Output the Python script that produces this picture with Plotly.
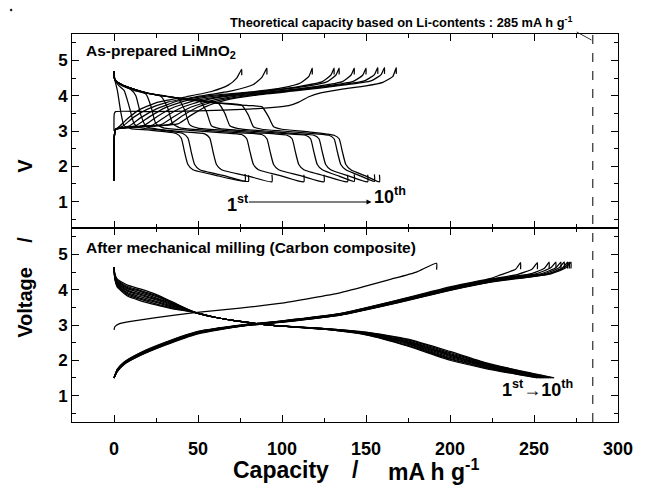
import plotly.graph_objects as go

# ---------------- data ----------------
# Top panel: as-prepared LiMnO2, cycles 1..10
top_chg_cap = [
    [0, 0.2, 1, 20, 50, 80, 95, 104, 110, 116, 123, 135, 150, 160, 166, 168, 168],
    [0, 0.3, 1, 3, 8, 15, 25, 43, 58, 68, 73, 76, 76],
    [0, 0.3, 1, 5, 12, 20, 32, 50, 70, 83, 88, 91, 91],
    [0, 0.3, 1, 9, 16, 25, 38, 55, 80, 100, 111, 116, 118, 118],
    [0, 0.3, 1, 13, 21, 30, 43, 60, 85, 110, 124, 129, 131, 131],
    [0, 0.3, 1, 18, 26, 35, 48, 65, 90, 115, 127, 132, 134, 134],
    [0, 0.3, 1, 23, 31, 40, 53, 70, 95, 120, 136, 141, 143, 143],
    [0, 0.3, 1, 28, 36, 45, 58, 75, 100, 125, 142, 148, 150, 150],
    [0, 0.3, 1, 33, 41, 50, 62, 80, 105, 130, 149, 155, 157, 157],
    [0, 0.3, 1, 38, 46, 55, 66, 85, 110, 135, 153, 159, 161, 161],
]
top_chg_v = [
    [3.0, 3.5, 3.55, 3.55, 3.57, 3.62, 3.67, 3.72, 3.82, 3.97, 4.08, 4.18, 4.28, 4.38, 4.55, 4.8, 4.62],
    [1.6, 2.9, 3.05, 3.12, 3.35, 3.6, 3.8, 3.97, 4.12, 4.3, 4.5, 4.75, 4.58],
    [1.6, 2.9, 3.05, 3.13, 3.4, 3.62, 3.82, 3.98, 4.14, 4.32, 4.52, 4.78, 4.6],
    [1.6, 2.9, 3.05, 3.14, 3.38, 3.62, 3.85, 3.99, 4.1, 4.22, 4.36, 4.55, 4.78, 4.6],
    [1.6, 2.9, 3.05, 3.15, 3.4, 3.65, 3.86, 3.99, 4.11, 4.26, 4.4, 4.58, 4.78, 4.6],
    [1.6, 2.9, 3.05, 3.16, 3.42, 3.66, 3.86, 3.99, 4.12, 4.27, 4.4, 4.58, 4.78, 4.6],
    [1.6, 2.9, 3.05, 3.17, 3.42, 3.66, 3.86, 4.0, 4.12, 4.26, 4.4, 4.58, 4.78, 4.6],
    [1.6, 2.9, 3.05, 3.18, 3.42, 3.66, 3.86, 4.0, 4.13, 4.27, 4.4, 4.58, 4.78, 4.6],
    [1.6, 2.9, 3.05, 3.19, 3.44, 3.68, 3.86, 4.01, 4.14, 4.28, 4.42, 4.6, 4.8, 4.62],
    [1.6, 2.9, 3.05, 3.2, 3.45, 3.7, 3.87, 4.02, 4.15, 4.29, 4.42, 4.6, 4.8, 4.62],
]
top_dis_cap = [
    [0, 0.5, 2, 4, 6, 10, 20, 30, 37, 40, 42, 44, 47, 60, 78, 78],
    [0, 0.5, 3, 6, 9, 12, 15, 25, 35, 41, 44, 46, 48, 51, 65, 80, 80],
    [0, 0.5, 5, 10, 13, 16, 19, 25, 40, 54, 57, 59, 61, 64, 80, 94, 94],
    [0, 0.5, 5, 12, 19, 22, 25, 30, 45, 65, 76, 79, 81, 83, 86, 100, 113, 113],
    [0, 0.5, 5, 15, 28, 32, 35, 40, 55, 75, 88, 91, 93, 95, 98, 112, 125, 125],
    [0, 0.5, 5, 20, 38, 42, 45, 50, 65, 85, 103, 106, 108, 110, 113, 126, 139, 139],
    [0, 0.5, 5, 20, 40, 51, 55, 58, 63, 80, 100, 114, 117, 119, 121, 124, 134, 143, 143],
    [0, 0.5, 5, 20, 40, 62, 66, 69, 74, 90, 110, 119, 122, 124, 126, 129, 140, 151, 151],
    [0, 0.5, 5, 20, 40, 60, 76, 80, 83, 88, 100, 120, 128, 131, 133, 135, 138, 147, 155, 155],
    [0, 0.5, 5, 20, 40, 60, 80, 88, 92, 95, 100, 115, 131, 134, 136, 138, 141, 150, 158, 158],
]
top_dis_v = [
    [4.69, 4.45, 4.15, 3.55, 3.15, 3.07, 3.03, 2.98, 2.93, 2.8, 2.4, 2.05, 1.9, 1.75, 1.58, 1.78],
    [4.69, 4.45, 4.28, 4.15, 3.7, 3.2, 3.1, 3.04, 2.98, 2.93, 2.8, 2.4, 2.05, 1.9, 1.74, 1.57, 1.75],
    [4.69, 4.45, 4.28, 4.18, 4.0, 3.45, 3.13, 3.06, 2.98, 2.92, 2.8, 2.4, 2.05, 1.9, 1.72, 1.56, 1.76],
    [4.69, 4.45, 4.3, 4.15, 4.05, 3.7, 3.2, 3.08, 3.02, 2.95, 2.9, 2.78, 2.4, 2.05, 1.9, 1.72, 1.56, 1.76],
    [4.69, 4.45, 4.3, 4.12, 3.98, 3.65, 3.2, 3.08, 3.02, 2.95, 2.9, 2.78, 2.4, 2.05, 1.9, 1.72, 1.56, 1.76],
    [4.69, 4.45, 4.3, 4.07, 3.92, 3.6, 3.18, 3.08, 3.02, 2.95, 2.88, 2.78, 2.4, 2.05, 1.9, 1.72, 1.56, 1.76],
    [4.69, 4.45, 4.3, 4.07, 3.92, 3.85, 3.55, 3.15, 3.07, 3.0, 2.93, 2.88, 2.78, 2.4, 2.05, 1.9, 1.72, 1.57, 1.77],
    [4.69, 4.45, 4.3, 4.07, 3.92, 3.79, 3.5, 3.15, 3.07, 3.0, 2.92, 2.88, 2.78, 2.4, 2.05, 1.9, 1.72, 1.56, 1.76],
    [4.69, 4.45, 4.3, 4.07, 3.92, 3.8, 3.73, 3.45, 3.12, 3.05, 3.0, 2.92, 2.88, 2.78, 2.4, 2.05, 1.9, 1.72, 1.57, 1.77],
    [4.69, 4.45, 4.3, 4.07, 3.92, 3.8, 3.72, 3.69, 3.4, 3.12, 3.05, 2.98, 2.88, 2.78, 2.4, 2.05, 1.9, 1.72, 1.56, 1.76],
]

# Bottom panel: after mechanical milling (carbon composite), cycles 1..10
bot_chg_cap = [
    [0, 0.5, 3, 10, 24, 48, 75, 100, 135, 165, 180, 192, 192],
    [0, 2, 6, 15, 30, 50, 75, 100, 135, 170, 200, 225, 260, 269, 272, 272],
    [0, 2, 6, 15, 30, 50, 75, 100, 135, 170, 200, 225, 259, 268, 271, 271],
    [0, 2, 6, 15, 30, 50, 75, 100, 135, 170, 200, 225, 258, 267, 270, 270],
    [0, 2, 6, 15, 30, 50, 75, 100, 135, 170, 200, 225, 256, 265, 268, 268],
    [0, 2, 6, 15, 30, 50, 75, 100, 135, 170, 200, 225, 254, 263, 266, 266],
    [0, 2, 6, 15, 30, 50, 75, 100, 135, 170, 200, 225, 251, 260, 263, 263],
    [0, 2, 6, 15, 30, 50, 75, 100, 135, 170, 200, 225, 247, 256, 259, 259],
    [0, 2, 6, 15, 30, 50, 75, 100, 135, 170, 200, 225, 240, 249, 252, 252],
    [0, 2, 6, 15, 30, 50, 75, 100, 135, 170, 200, 225, 230, 239, 242, 242],
]
bot_chg_v = [
    [2.86, 2.95, 3.03, 3.1, 3.2, 3.35, 3.48, 3.62, 3.92, 4.3, 4.5, 4.75, 4.57],
    [1.5, 1.68, 1.88, 2.12, 2.42, 2.75, 2.96, 3.08, 3.28, 3.64, 3.98, 4.22, 4.45, 4.62, 4.78, 4.6],
    [1.5, 1.69, 1.89, 2.13, 2.43, 2.76, 2.96, 3.08, 3.29, 3.65, 3.99, 4.23, 4.45, 4.62, 4.78, 4.6],
    [1.5, 1.7, 1.9, 2.14, 2.44, 2.77, 2.97, 3.09, 3.29, 3.66, 4.0, 4.24, 4.45, 4.62, 4.78, 4.6],
    [1.5, 1.71, 1.91, 2.15, 2.45, 2.78, 2.97, 3.09, 3.3, 3.67, 4.01, 4.26, 4.45, 4.62, 4.79, 4.6],
    [1.5, 1.72, 1.92, 2.16, 2.46, 2.79, 2.98, 3.1, 3.31, 3.68, 4.03, 4.27, 4.45, 4.62, 4.78, 4.6],
    [1.5, 1.72, 1.92, 2.17, 2.47, 2.8, 2.98, 3.1, 3.31, 3.69, 4.04, 4.29, 4.45, 4.62, 4.78, 4.6],
    [1.5, 1.73, 1.93, 2.18, 2.48, 2.8, 2.99, 3.11, 3.32, 3.7, 4.05, 4.3, 4.44, 4.6, 4.78, 4.6],
    [1.5, 1.74, 1.94, 2.19, 2.49, 2.81, 2.99, 3.11, 3.32, 3.71, 4.06, 4.31, 4.43, 4.59, 4.77, 4.58],
    [1.5, 1.75, 1.95, 2.2, 2.5, 2.82, 3.0, 3.12, 3.33, 3.72, 4.08, 4.33, 4.42, 4.58, 4.77, 4.58],
]
bot_dis_cap = [
    [0, 0.5, 2, 8, 15, 25, 35, 48, 60, 75, 96, 125, 150, 175, 200, 220, 240, 262],
    [0, 0.5, 2, 8, 15, 25, 35, 48, 60, 75, 96, 125, 150, 175, 200, 220, 240, 261],
    [0, 0.5, 2, 8, 15, 25, 35, 48, 60, 75, 96, 125, 150, 175, 200, 220, 240, 260],
    [0, 0.5, 2, 8, 15, 25, 35, 48, 60, 75, 96, 125, 150, 175, 200, 220, 240, 259],
    [0, 0.5, 2, 8, 15, 25, 35, 48, 60, 75, 96, 125, 150, 175, 200, 220, 240, 258],
    [0, 0.5, 2, 8, 15, 25, 35, 48, 60, 75, 96, 125, 150, 175, 200, 220, 240, 257],
    [0, 0.5, 2, 8, 15, 25, 35, 48, 60, 75, 96, 125, 150, 175, 200, 220, 240, 256],
    [0, 0.5, 2, 8, 15, 25, 35, 48, 60, 75, 96, 125, 150, 175, 200, 220, 240, 255],
    [0, 0.5, 2, 8, 15, 25, 35, 48, 60, 75, 96, 125, 150, 175, 200, 220, 240, 254],
    [0, 0.5, 2, 8, 15, 25, 35, 48, 60, 75, 96, 125, 150, 175, 200, 220, 240, 252],
]
bot_dis_v = [
    [4.63, 4.45, 4.30, 4.13, 4.03, 3.87, 3.65, 3.36, 3.22, 3.10, 2.98, 2.90, 2.80, 2.60, 2.25, 1.95, 1.72, 1.50],
    [4.63, 4.43, 4.27, 4.09, 3.99, 3.84, 3.63, 3.36, 3.22, 3.10, 2.98, 2.90, 2.79, 2.58, 2.22, 1.93, 1.71, 1.50],
    [4.63, 4.42, 4.25, 4.06, 3.96, 3.81, 3.61, 3.36, 3.22, 3.10, 2.98, 2.90, 2.78, 2.55, 2.19, 1.91, 1.69, 1.50],
    [4.63, 4.40, 4.22, 4.03, 3.92, 3.77, 3.59, 3.36, 3.22, 3.10, 2.98, 2.89, 2.77, 2.53, 2.16, 1.89, 1.68, 1.50],
    [4.63, 4.38, 4.20, 3.99, 3.88, 3.74, 3.57, 3.36, 3.22, 3.10, 2.98, 2.89, 2.76, 2.51, 2.14, 1.88, 1.67, 1.50],
    [4.63, 4.37, 4.17, 3.96, 3.85, 3.71, 3.55, 3.36, 3.22, 3.10, 2.98, 2.89, 2.76, 2.49, 2.11, 1.86, 1.66, 1.50],
    [4.63, 4.35, 4.15, 3.92, 3.81, 3.67, 3.53, 3.36, 3.22, 3.10, 2.98, 2.89, 2.75, 2.47, 2.08, 1.84, 1.64, 1.50],
    [4.63, 4.33, 4.12, 3.89, 3.77, 3.64, 3.50, 3.36, 3.22, 3.10, 2.98, 2.88, 2.74, 2.45, 2.05, 1.82, 1.63, 1.50],
    [4.63, 4.32, 4.10, 3.85, 3.74, 3.60, 3.48, 3.36, 3.22, 3.10, 2.98, 2.88, 2.73, 2.42, 2.03, 1.80, 1.61, 1.50],
    [4.63, 4.30, 4.07, 3.82, 3.70, 3.57, 3.46, 3.36, 3.22, 3.10, 2.98, 2.88, 2.72, 2.40, 2.00, 1.78, 1.60, 1.50],
]

x_ticks = [0, 50, 100, 150, 200, 250, 300]
y_ticks = [1, 2, 3, 4, 5]
theoretical_capacity = 285

# ---------------- figure ----------------
FONT = "Liberation Sans, Arial, Helvetica, sans-serif"
PAGE = 8                       # browser body margin that offsets the figure
W, H = 645 - PAGE, 495 - PAGE  # figure size so it fits the window
L, R, T, B = 72, 628, 34, 422  # plot-area edges in window pixels

def px(x):
    return (x - L) / (R - L)

def py(y):
    return (B - y) / (B - T)

fig = go.Figure()
line = dict(color="black", width=1.25, shape="spline", smoothing=0.5)

for caps, vs in ((top_chg_cap, top_chg_v), (top_dis_cap, top_dis_v)):
    for c, v in zip(caps, vs):
        fig.add_trace(go.Scatter(x=c, y=v, mode="lines", line=line,
                                 xaxis="x2", yaxis="y2", showlegend=False, hoverinfo="skip"))
for caps, vs in ((bot_chg_cap, bot_chg_v), (bot_dis_cap, bot_dis_v)):
    for c, v in zip(caps, vs):
        fig.add_trace(go.Scatter(x=c, y=v, mode="lines", line=line,
                                 xaxis="x", yaxis="y", showlegend=False, hoverinfo="skip"))

common_x = dict(range=[-25, 300], tickvals=x_ticks, ticks="inside", ticklen=7, tickwidth=1,
                tickcolor="black", showline=True, linecolor="black", linewidth=1, mirror="ticks",
                showgrid=False, zeroline=False,
                minor=dict(dtick=25, tick0=0, ticks="inside", ticklen=4, tickcolor="black", showgrid=False))
common_y = dict(range=[0.25, 5.75], tickvals=y_ticks, ticks="inside", ticklen=7, tickwidth=1,
                tickcolor="black", showline=True, linecolor="black", linewidth=1, mirror="ticks",
                showgrid=False, zeroline=False,
                tickfont=dict(family=FONT, size=17, color="black", weight="bold"),
                minor=dict(dtick=0.5, tick0=0, ticks="inside", ticklen=4, tickcolor="black", showgrid=False))

fig.update_layout(
    width=W, height=H,
    margin=dict(l=L - PAGE, r=645 - R, t=T - PAGE, b=495 - B),
    paper_bgcolor="white", plot_bgcolor="white",
    xaxis=dict(**common_x, anchor="y", domain=[0, 1],
               tickfont=dict(family=FONT, size=18, color="black", weight="bold"),
               ticklabelstandoff=10),
    xaxis2=dict(**common_x, anchor="y2", domain=[0, 1], matches="x", showticklabels=False),
    yaxis=dict(**common_y, anchor="x", domain=[0, 0.5]),
    yaxis2=dict(**common_y, anchor="x2", domain=[0.5, 1]),
)

# dashed theoretical-capacity line through both panels
fig.add_shape(type="line", xref="x", yref="paper", x0=theoretical_capacity, x1=theoretical_capacity,
              y0=0, y1=1, line=dict(color="black", width=1, dash="dash"))
# leader from the note to the dashed line
fig.add_shape(type="line", xref="paper", yref="paper", x0=px(586), y0=py(32), x1=px(601), y1=py(40),
              line=dict(color="black", width=0.8))
# small speck in the top-left corner of the original
fig.add_shape(type="circle", xref="paper", yref="paper", x0=px(9), x1=px(11), y0=py(9), y1=py(11),
              line=dict(color="black", width=0.5), fillcolor="black")

ann = []
def text(x, y, t, size, bold=True, xanchor="center", yanchor="middle", angle=0):
    ann.append(dict(x=px(x), y=py(y), xref="paper", yref="paper", text=t, showarrow=False,
                    xanchor=xanchor, yanchor=yanchor, textangle=angle,
                    font=dict(family=FONT, size=size, color="black",
                              weight="bold" if bold else "normal")))

text(583, 22, "Theoretical capacity based on Li-contents : 285 mA h g<sup>-1</sup>", 12.8,
     bold=True, xanchor="right")
text(84, 52, "As-prepared LiMnO<sub>2</sub>", 15.5, xanchor="left")
text(84, 247, "After mechanical milling (Carbon composite)", 15.5, xanchor="left")
text(228, 203, "1<sup>st</sup>", 18, xanchor="left")
text(378, 195, "10<sup>th</sup>", 18, xanchor="left")
text(508, 388, "1<sup>st</sup>→10<sup>th</sup>", 18, xanchor="left")
# axis titles
text(24, 302, "Voltage", 20, angle=-90)
text(24, 240, "/", 20, angle=-90)
text(24, 166, "V", 20, angle=-90)
text(285, 470, "Capacity", 23)
text(361, 470, "/", 23)
text(440, 470, "mA h g<sup>-1</sup>", 23)

# arrow 1st -> 10th in upper panel
ann.append(dict(x=px(377), y=py(202), xref="paper", yref="paper", ax=-124, ay=0,
                axref="pixel", ayref="pixel", text="", showarrow=True,
                arrowhead=2, arrowsize=1, arrowwidth=1, arrowcolor="black"))

fig.update_layout(annotations=ann)
fig.write_html("out.html")
